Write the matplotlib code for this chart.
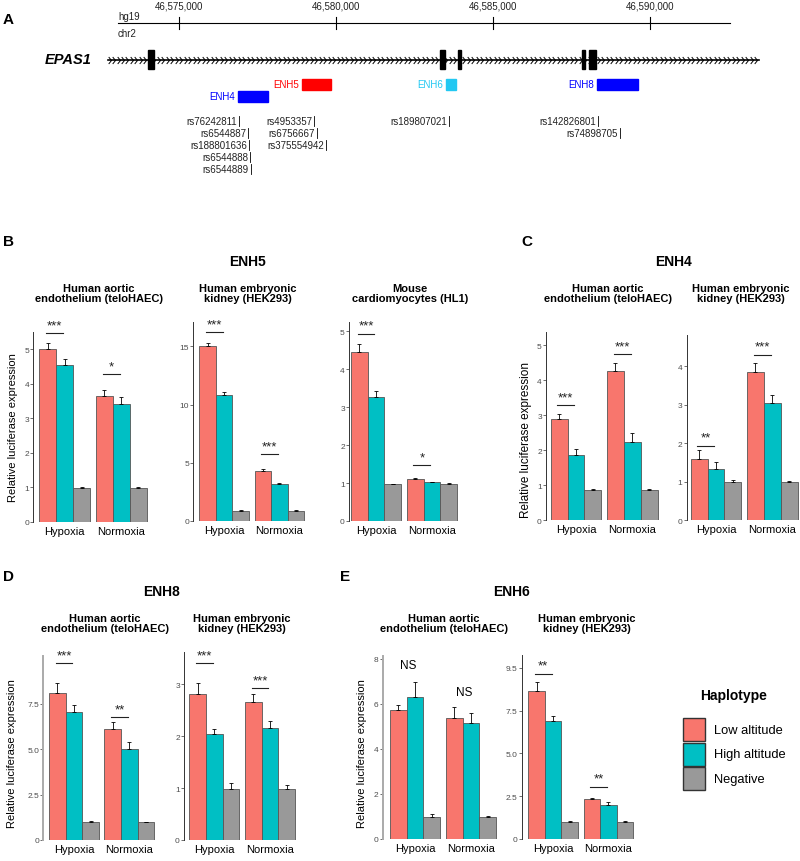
import numpy as np
import matplotlib
matplotlib.use('Agg')
import matplotlib.pyplot as plt
from matplotlib.path import Path
from matplotlib.patches import Rectangle

plt.rcParams['font.family'] = ['Liberation Sans', 'DejaVu Sans']

W, H = 800, 862
LOW, HIGH, NEG = '#F8766D', '#00BFC4', '#999999'

# ---------------- panel A: EPAS1 locus (hg19, chr2) ----------------
ruler_ticks = [46575000, 46580000, 46585000, 46590000]
ruler_span = [46573057, 46592549]
gene_span = [46572739, 46593473]
exon_start = [46574013, 46583313, 46583886, 46587836, 46588058]
exon_end = [46574204, 46583472, 46583982, 46587947, 46588281]

enh_names = ['ENH4', 'ENH5', 'ENH6', 'ENH8']
enh_start = [46576879, 46578918, 46583504, 46588313]
enh_end = [46577835, 46579841, 46583822, 46589619]
enh_row = [1, 0, 0, 0]
enh_colors = ['#0000FF', '#FF0000', '#22C8F2', '#0000FF']

snp_names = ['rs76242811', 'rs6544887', 'rs188801636', 'rs6544888', 'rs6544889',
             'rs4953357', 'rs6756667', 'rs375554942', 'rs189807021',
             'rs142826801', 'rs74898705']
snp_pos = [46576911, 46577198, 46577230, 46577261, 46577293,
           46579300, 46579395, 46579682, 46583600, 46588345, 46589046]
snp_row = [0, 1, 2, 3, 4, 0, 1, 2, 0, 0, 1]

# ---------------- panels B-E: luciferase assays ----------------
conditions = ['Hypoxia', 'Normoxia']
haplotypes = ['Low altitude', 'High altitude', 'Negative']
cell_lines = ['Human aortic\nendothelium (teloHAEC)', 'Human embryonic\nkidney (HEK293)',
              'Mouse\ncardiomyocytes (HL1)',
              'Human aortic\nendothelium (teloHAEC)', 'Human embryonic\nkidney (HEK293)',
              'Human aortic\nendothelium (teloHAEC)', 'Human embryonic\nkidney (HEK293)',
              'Human aortic\nendothelium (teloHAEC)', 'Human embryonic\nkidney (HEK293)']

low_mean = [[5.0, 3.65], [15.0, 4.3], [4.47, 1.12], [2.89, 4.25], [1.58, 3.86],
            [8.1, 6.1], [2.81, 2.65], [5.73, 5.38], [8.67, 2.36]]
low_se = [[0.19, 0.17], [0.3, 0.2], [0.21, 0.02], [0.13, 0.25], [0.25, 0.23],
          [0.54, 0.42], [0.21, 0.16], [0.23, 0.47], [0.49, 0.06]]
high_mean = [[4.55, 3.42], [10.8, 3.2], [3.26, 1.02], [1.86, 2.23], [1.32, 3.04],
             [7.03, 4.99], [2.05, 2.15], [6.3, 5.14], [6.88, 1.99]]
high_se = [[0.18, 0.21], [0.3, 0.1], [0.16, 0.02], [0.17, 0.26], [0.19, 0.21],
           [0.41, 0.39], [0.09, 0.14], [0.66, 0.46], [0.33, 0.15]]
neg_mean = [[0.98, 0.98], [0.9, 0.9], [0.97, 0.97], [0.85, 0.85], [0.98, 0.98],
            [0.98, 0.98], [0.99, 0.99], [0.99, 0.99], [0.99, 0.99]]
neg_se = [[0.04, 0.04], [0.05, 0.03], [0.01, 0.02], [0.03, 0.03], [0.07, 0.04],
          [0.07, 0.03], [0.1, 0.07], [0.12, 0.01], [0.08, 0.04]]

sig_label = [['***', '*'], ['***', '***'], ['***', '*'], ['***', '***'], ['**', '***'],
             ['***', '**'], ['***', '***'], ['NS', 'NS'], ['**', '**']]
sig_y = [[5.47, 4.29], [16.2, 5.76], [4.94, 1.48], [3.28, 4.74], [1.93, 4.3],
         [9.74, 6.76], [3.41, 2.92], [7.73, 6.52], [9.67, 3.06]]

ytick_vals = [[0, 1, 2, 3, 4, 5], [0, 5, 10, 15], [0, 1, 2, 3, 4, 5], [0, 1, 2, 3, 4, 5],
              [0, 1, 2, 3, 4], [0, 2.5, 5, 7.5], [0, 1, 2, 3], [0, 2, 4, 6, 8],
              [0, 2.5, 5, 7.5, 10]]
ytick_labels = [['0', '1', '2', '3', '4', '5'], ['0', '5', '10', '15'],
                ['0', '1', '2', '3', '4', '5'], ['0', '1', '2', '3', '4', '5'],
                ['0', '1', '2', '3', '4'], ['0', '2.5', '5.0', '7.5'], ['0', '1', '2', '3'],
                ['0', '2', '4', '6', '8'], ['0', '2.5', '5.0', '7.5', '9.5']]

# layout in pixels: y-axis x, first bar left, last bar right, top, bottom, y max
panel_px = [(33.3, 39.3, 147.0, 333, 523, 5.5),
            (193.3, 199.3, 304.3, 323, 522, 17.1),
            (349.0, 351.0, 457.0, 323, 522, 5.25),
            (546.0, 550.7, 657.7, 333, 521, 5.38),
            (686.7, 690.7, 797.7, 336, 521, 4.81),
            (43.3, 49.0, 154.3, 657, 841, 10.13),
            (184.0, 189.3, 295.0, 653, 841, 3.62),
            (382.7, 390.0, 496.0, 657, 840, 8.12),
            (521.7, 528.3, 633.3, 656, 840, 10.76)]
sub_pos = [(99, 294), (248, 294), (410, 294), (608, 294), (741, 294),
           (105, 624), (242, 624), (444, 624), (587, 624)]
light_axis = [5, 7]

fig = plt.figure(figsize=(8, 8.62), dpi=100)

# overlay in pixel coordinates for labels and legend
ov = fig.add_axes([0, 0, 1, 1])
ov.set_xlim(0, W)
ov.set_ylim(H, 0)
ov.axis('off')

# ---- track ----
def px2bp(x):
    return 46575000 + (x - 179) * 31.85

tr = fig.add_axes([0, 0, 1, 1])
tr.set_xlim(px2bp(0), px2bp(W))
tr.set_ylim(H, 0)
tr.axis('off')

tr.plot(ruler_span, [24, 24], color='black', lw=0.8)
for t in ruler_ticks:
    tr.plot([t, t], [18, 30], color='black', lw=0.8)
    tr.text(t, 6.5, f'{t:,}', ha='center', va='center', fontsize=7, color='#222222')
tr.text(ruler_span[0], 17, 'hg19', ha='left', va='center', fontsize=7, color='#222222')
tr.text(ruler_span[0], 34, 'chr2', ha='left', va='center', fontsize=7, color='#222222')

tr.plot(gene_span, [60.5, 60.5], color='black', lw=1.2, zorder=2)
chev = Path([(-0.8, 1), (0, 0), (-0.8, -1)], [Path.MOVETO, Path.LINETO, Path.LINETO])
xs = np.arange(gene_span[0] + 80, gene_span[1], 143)
tr.plot(xs, np.full(len(xs), 60.5), ls='none', marker=chev, ms=5, mfc='none',
        mec='black', mew=0.7, zorder=2)
for s, e in zip(exon_start, exon_end):
    tr.add_patch(Rectangle((s, 51), e - s, 19, color='black', zorder=3))
tr.text(px2bp(92), 60, 'EPAS1', ha='right', va='center', fontsize=10.5,
        fontweight='bold', fontstyle='italic')

for n, s, e, r, c in zip(enh_names, enh_start, enh_end, enh_row, enh_colors):
    yc = 85.5 + 11.5 * r
    tr.add_patch(Rectangle((s, yc - 5.5), e - s, 11, color=c))
    tr.annotate(n, (s, yc), xytext=(-2, 0), textcoords='offset points',
                ha='right', va='center', fontsize=7, color=c)

for n, p, r in zip(snp_names, snp_pos, snp_row):
    yc = 122 + 12 * r
    tr.plot([p, p], [yc - 5, yc + 5], color='black', lw=0.6)
    tr.annotate(n, (p, yc), xytext=(-1.5, 0), textcoords='offset points',
                ha='right', va='center', fontsize=7, color='#222222')

# ---- bar panels ----
for i in range(9):
    al, fb, lb, top, bot, ymax = panel_px[i]
    ppu = (lb - fb) / 1.9
    x0 = 0.55 - (fb - al) / ppu
    x1 = 2.6
    right = al + (x1 - x0) * ppu
    ax = fig.add_axes([al / W, 1 - bot / H, (right - al) / W, (bot - top) / H])
    ax.patch.set_alpha(0)
    centers = np.array([1.0, 2.0])
    series = [(low_mean[i], low_se[i], LOW), (high_mean[i], high_se[i], HIGH),
              (neg_mean[i], neg_se[i], NEG)]
    for k, (m, s, c) in enumerate(series):
        xb = centers + (k - 1) * 0.3
        ax.bar(xb, m, width=0.3, color=c, edgecolor='#555555', linewidth=0.6, zorder=2)
        ax.errorbar(xb, m, yerr=[np.zeros(2), s], fmt='none', ecolor='black',
                    elinewidth=0.6, capsize=1.2, capthick=0.6, zorder=3)
    for g in range(2):
        lab = sig_label[i][g]
        y = sig_y[i][g]
        xa, xe = centers[g] - 0.33, centers[g] - 0.03
        if lab == 'NS':
            ax.text(centers[g] - 0.12, y, 'NS', ha='center', va='center', fontsize=8.5,
                    clip_on=False)
        else:
            ax.plot([xa, xe], [y, y], color='#222222', lw=0.8, clip_on=False)
            ax.annotate(lab, ((xa + xe) / 2, y), xytext=(0, 3.5), textcoords='offset points',
                        ha='center', va='baseline', fontsize=9.5, color='#222222',
                        annotation_clip=False)
    ax.set_xlim(x0, x1)
    ax.set_ylim(0, ymax)
    ax.set_yticks(ytick_vals[i], ytick_labels[i])
    ax.set_xticks(centers, conditions)
    ax.tick_params(axis='y', length=2, width=0.5, color='#333333', labelsize=6,
                   labelcolor='#4d4d4d', pad=1)
    ax.tick_params(axis='x', length=0, labelsize=8, pad=3)
    for sp in ['top', 'right', 'bottom']:
        ax.spines[sp].set_visible(False)
    if i in light_axis:
        ax.spines['left'].set_color('#aaaaaa')
        ax.spines['left'].set_linewidth(1.4)
    else:
        ax.spines['left'].set_color('#333333')
        ax.spines['left'].set_linewidth(0.7)
    sx, sy = sub_pos[i]
    ov.text(sx, sy, cell_lines[i], ha='center', va='center', fontsize=8,
            fontweight='bold', linespacing=1.08)

# panel letters and enhancer titles
for lab, x, y in [('A', 8, 20), ('B', 8, 242), ('C', 527, 242), ('D', 8, 577), ('E', 345, 577)]:
    ov.text(x, y, lab, ha='center', va='center', fontsize=11, fontweight='bold')
for lab, x, y in [('ENH5', 248, 262), ('ENH4', 674, 262), ('ENH8', 162, 592), ('ENH6', 512, 592)]:
    ov.text(x, y, lab, ha='center', va='center', fontsize=10, fontweight='bold')
for x, y, fs in [(13, 428, 8), (526, 440, 8.5), (12, 754, 8), (362, 754, 8)]:
    ov.text(x, y, 'Relative luciferase expression', rotation=90, ha='center', va='center',
            fontsize=fs)

# legend
ov.text(700, 696, 'Haplotype', ha='left', va='center', fontsize=10, fontweight='bold')
for k, (lab, c) in enumerate(zip(haplotypes, [LOW, HIGH, NEG])):
    y0 = 719 + 24.5 * k
    ov.add_patch(Rectangle((683, y0), 22, 23, facecolor=c, edgecolor='#333333', lw=1.0))
    ov.text(714, y0 + 12, lab, ha='left', va='center', fontsize=9.3)

fig.savefig('out.png', dpi=100)
